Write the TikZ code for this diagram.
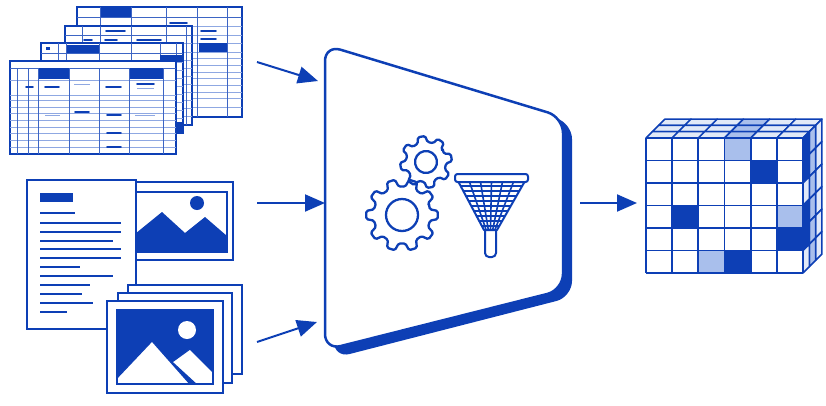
\documentclass[tikz,border=0pt]{standalone}
\usetikzlibrary{arrows.meta}
\definecolor{bl}{HTML}{0D3FB5}
\definecolor{lb}{HTML}{A9BFEC}
\definecolor{pb}{HTML}{E1E9F8}
\definecolor{gl}{HTML}{8FA8E2}

% gear: centre x, centre y, teeth, tip radius, root radius, hole radius, rotation
\newcommand\mygear[7]{%
  \begin{scope}[shift={(#1,#2)},rotate=#7]
    \pgfmathsetmacro\gp{360/#3}
    \draw[gearln] ({-0.5*\gp}:#5)
      \foreach \i in {1,...,#3}{
        -- ({(\i-1)*\gp-0.32*\gp}:#5) -- ({(\i-1)*\gp-0.18*\gp}:#4)
        -- ({(\i-1)*\gp+0.18*\gp}:#4) -- ({(\i-1)*\gp+0.32*\gp}:#5)
        -- ({(\i-1)*\gp+0.5*\gp}:#5)} -- cycle;
    \draw[gearln] (0,0) circle[radius=#6];
  \end{scope}}

\begin{document}
\begin{tikzpicture}[x=1pt,y=-1pt,
  sheet/.style={fill=white,draw=bl,line width=1.2pt},
  colln/.style={draw=bl!80,line width=0.8pt},
  rowln/.style={draw=gl,line width=0.7pt},
  markln/.style={draw=bl,line width=1.6pt,line cap=round},
  faintln/.style={draw=gl,line width=1pt},
  frame/.style={fill=white,draw=bl,line width=1.3pt},
  flow/.style={draw=bl,line width=2pt,-{Triangle[length=20pt,width=17pt]}},
  gearln/.style={draw=bl,line width=2.3pt,rounded corners=1.5pt,line join=round},
  cubeln/.style={draw=bl,line width=1.5pt,line join=round}]
\useasboundingbox (0,0) rectangle (826,405);

% ---------- spreadsheets ----------
% sheet A (back)
\filldraw[sheet] (77,7) rectangle (242,117);
\fill[bl] (100,8) rectangle (131,17);
\foreach \y in {26,35,43,52,58,65,72,78,85,92,98,107} \draw[rowln] (77,\y) -- (242,\y);
\draw[colln] (77,17) -- (242,17);
\foreach \x in {100,131,166,197,227} \draw[colln] (\x,7) -- (\x,117);
\fill[bl] (199,43) rectangle (227,52);
\draw[markln] (170,23) -- (187,23);
\draw[markln] (201,31) -- (216,31);
\draw[markln] (201,39) -- (216,39);
% sheet B
\filldraw[sheet] (65,26) rectangle (192,125);
\foreach \y in {35,43,52,60,68,76,84,92,100,108,116} \draw[rowln] (65,\y) -- (192,\y);
\draw[colln] (65,35) -- (192,35);
\foreach \x in {82,100,131,166,186} \draw[colln] (\x,26) -- (\x,125);
\draw[markln] (106,31) -- (125,31);
\draw[markln] (84,40) -- (92,40);
\draw[markln] (105,40) -- (117,40);
\draw[markln] (137,40) -- (161,40);
% sheet C
\filldraw[sheet] (41,43) rectangle (183,133);
\fill[bl] (66,45) rectangle (99,53);
\fill[bl] (46,47) rectangle (50,50);
\draw[colln] (41,53) -- (183,53);
\foreach \y in {62,70,78,86,94,102,110,118,126} \draw[rowln] (41,\y) -- (183,\y);
\foreach \x in {58,66,99,131,160,176} \draw[colln] (\x,43) -- (\x,133);
\fill[bl] (160,55) rectangle (183,62);
\fill[bl] (176,122) rectangle (183,133);
% sheet D (front)
\filldraw[sheet] (10,61) rectangle (176,154);
\draw[colln] (10,68) -- (176,68);
\fill[bl] (38,68) rectangle (69,79);
\fill[bl] (129,68) rectangle (163,79);
\foreach \y in {80,95,100,107,113,120,127,133,140,147} \draw[rowln] (10,\y) -- (176,\y);
\foreach \x in {17,28,38,69,99,129,163} \draw[colln] (\x,68) -- (\x,154);
\draw[markln] (26,87) -- (33,87);
\draw[markln] (45,87) -- (59,87);
\draw[faintln] (74,84) -- (90,84);
\draw[markln] (106,87) -- (121,87);
\draw[markln] (137,84) -- (154,84);
\draw[faintln] (137,88) -- (154,88);
\draw[markln] (75,112) -- (89,112);
\draw[markln] (107,115) -- (121,115);
\draw[faintln] (45,115) -- (60,115);
\draw[faintln] (135,115) -- (155,115);
\draw[faintln] (75,133) -- (89,133);
\draw[markln] (107,133) -- (121,133);
\draw[markln] (107,147) -- (121,147);

% ---------- picture with mountains ----------
\filldraw[frame] (118,182) rectangle (233,260);
\draw[bl,line width=1.2pt] (130,192) rectangle (227,252);
\fill[bl] (130,252) -- (130,238) -- (162,212) -- (185,233) -- (205,217) -- (227,236) -- (227,252) -- cycle;
\fill[bl] (197,203) circle[radius=7];

% ---------- text document ----------
\filldraw[frame] (27,180) rectangle (136,329);
\fill[bl] (40,193) rectangle (73,202);
\foreach \y/\e in {213/75,223/121,232/121,241/113,249/121,258/121,267/80,276/113,285/90,294/82,303/93,312/67}
  \draw[bl,line width=1.5pt] (40,\y) -- (\e,\y);

% ---------- stack of pictures ----------
\filldraw[frame] (128,285) rectangle (242,374);
\filldraw[frame] (118,293) rectangle (232,383);
\filldraw[frame] (107,301) rectangle (223,393);
\fill[bl] (117,310) rectangle (213,384);
\filldraw[fill=white,draw=bl,line width=1.2pt] (172,362) -- (190,349) -- (213,372) -- (213,384) -- (196,384) -- cycle;
\filldraw[fill=white,draw=bl,line width=1.2pt] (117,384) -- (117,378) -- (152,341) -- (190,384) -- cycle;
\fill[white] (187,330) circle[radius=9];
\draw[bl,line width=1.3pt] (117,310) rectangle (213,384);

% ---------- processing block ----------
\fill[bl,rounded corners=16pt] (334,52) -- (572,123) -- (572,297) -- (334,358) -- cycle;
\filldraw[fill=white,draw=bl,line width=2.5pt,rounded corners=16pt]
  (325,45) -- (563,117) -- (563,290) -- (325,350) -- cycle;
\coordinate (blockW) at (325,203);

% gears
\mygear{426}{162}{8}{26}{20}{11}{10}
\mygear{402}{215}{10}{36}{28.5}{16}{0}

% net
\draw[bl,line width=2pt,rounded corners=4pt,fill=white] (485,226) -- (485,257) -- (496,257) -- (496,226);
\begin{scope}
  \clip (458,181) -- (525,181) -- (497,230) -- (484,230) -- cycle;
  \fill[white] (450,175) rectangle (530,235);
  \foreach \y in {186,191,...,226} \draw[bl,line width=1.6pt] (450,\y) -- (530,\y);
  \foreach \k in {1,...,5} \draw[bl,line width=1.6pt] ({458+\k*67/6},181) -- ({484+\k*13/6},230);
\end{scope}
\draw[bl,line width=2pt,line join=round] (458,181) -- (484,230) -- (497,230) -- (525,181);
\filldraw[fill=white,draw=bl,line width=2pt,rounded corners=2.5pt] (455,174) rectangle (528,182);

% ---------- flow arrows ----------
\coordinate (tabOut) at (257,62);
\coordinate (docOut) at (257,203);
\coordinate (imgOut) at (257,342);
\coordinate (blockNW) at (318,81);
\coordinate (blockSW) at (317,322);
\coordinate (blockE) at (580,203);
\coordinate (cubeW) at (637,203);
\draw[flow] (tabOut) -- (blockNW);
\draw[flow] (docOut) -- (blockW);
\draw[flow] (imgOut) -- (blockSW);
\draw[flow] (blockE) -- (cubeW);

% ---------- data cube ----------
\def\cw{26.17}
\def\ch{22.5}
\def\dd{6.3}
\foreach \k in {2,1,0}{
  \pgfmathsetmacro\X{646+\k*\dd}
  \pgfmathsetmacro\Y{138-\k*\dd}
  \foreach \i in {0,...,5}{
    \pgfmathsetmacro\tc{(\i==3)?"lb":"pb"}
    \filldraw[cubeln,fill=\tc] ({\X+\i*\cw},\Y) -- ({\X+(\i+1)*\cw},\Y)
      -- ({\X+(\i+1)*\cw+\dd},{\Y-\dd}) -- ({\X+\i*\cw+\dd},{\Y-\dd}) -- cycle;
  }
  \foreach \j in {0,...,5}{
    \pgfmathsetmacro\rc{(\k==0 && (\j==0 || \j==1 || \j==3 || \j==4))?"bl":((\k==1)?"lb":"pb")}
    \filldraw[cubeln,fill=\rc] ({\X+6*\cw},{\Y+\j*\ch}) -- ({\X+6*\cw},{\Y+(\j+1)*\ch})
      -- ({\X+6*\cw+\dd},{\Y+(\j+1)*\ch-\dd}) -- ({\X+6*\cw+\dd},{\Y+\j*\ch-\dd}) -- cycle;
  }
}
\fill[white] (646,138) rectangle ({646+6*\cw},{138+6*\ch});
\foreach \c/\r/\col in {3/0/lb,4/1/bl,1/3/bl,5/3/lb,5/4/bl,2/5/lb,3/5/bl}
  \fill[\col] ({646+\c*\cw},{138+\r*\ch}) rectangle ({646+(\c+1)*\cw},{138+(\r+1)*\ch});
\foreach \i in {0,...,6} \draw[bl,line width=1.8pt] ({646+\i*\cw},138) -- ({646+\i*\cw},{138+6*\ch});
\foreach \j in {0,...,6} \draw[bl,line width=1.8pt] (646,{138+\j*\ch}) -- ({646+6*\cw},{138+\j*\ch});
\end{tikzpicture}
\end{document}
